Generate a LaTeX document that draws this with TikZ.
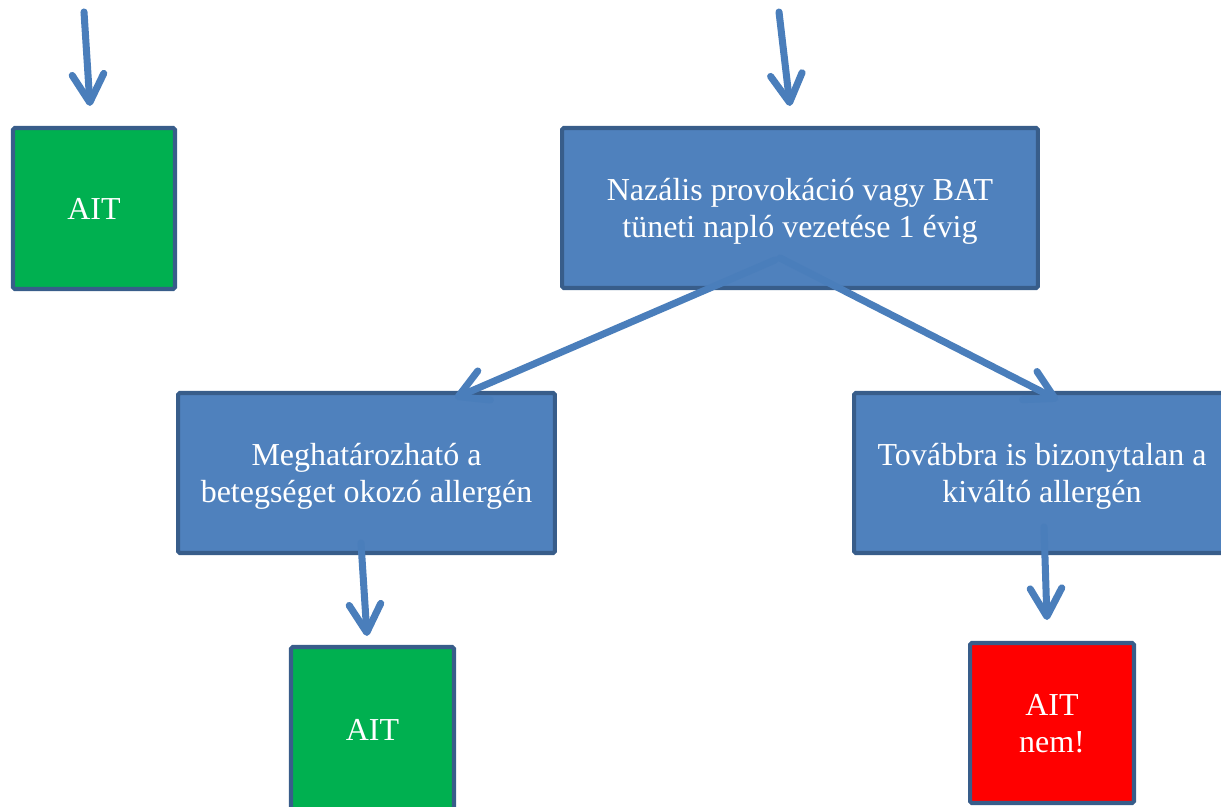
\documentclass[tikz,border=0pt]{standalone}
\usepackage{fontspec}
\setmainfont{Liberation Serif}
\usetikzlibrary{arrows.meta}
\definecolor{boxblue}{HTML}{4F81BD}
\definecolor{edgeblue}{HTML}{385D8A}
\definecolor{arrowblue}{HTML}{4A7EBB}
\definecolor{okgreen}{HTML}{00B050}
\definecolor{nored}{HTML}{FF0000}
\tikzset{
  card/.style={draw=edgeblue, line width=2.3pt, rounded corners=1pt, text=white,
    align=center, inner sep=0pt,
    font=\fontsize{18.2}{21.5}\selectfont},
  twoline/.style={text height=36.3pt, text depth=2.3pt},
  stepbox/.style={card, twoline, fill=boxblue},
  yesbox/.style={card, fill=okgreen},
  nobox/.style={card, fill=nored},
  conn/.style={draw=arrowblue, line width=4pt, line cap=round,
    -{Straight Barb[length=16pt,width=18pt,round]}}
}
\begin{document}
\begin{tikzpicture}[x=0.02cm, y=-0.02cm]
  \useasboundingbox (0,0) rectangle (1221,807);
  \clip (0,0) rectangle (1221,807);

  % boxes
  \node[yesbox, minimum width=3.24cm, minimum height=3.22cm] (ait1) at (94,208.5) {AIT};
  \node[stepbox, minimum width=9.52cm, minimum height=3.2cm] (test) at (800,208)
    {Nazális provokáció vagy BAT\\tüneti napló vezetése 1 évig};
  \node[stepbox, minimum width=7.54cm, minimum height=3.2cm] (known) at (366.5,473)
    {Meghatározható a\\betegséget okozó allergén};
  \node[stepbox, minimum width=7.52cm, minimum height=3.2cm] (unknown) at (1042,473)
    {Továbbra is bizonytalan a\\kiváltó allergén};
  \node[yesbox, minimum width=3.26cm, minimum height=3.32cm] (ait2) at (372.5,730) {AIT};
  \node[nobox, twoline, minimum width=3.28cm, minimum height=3.2cm] (nem) at (1052,723) {AIT\\nem!};

  % connector end points
  \coordinate (inA) at (84,12);
  \coordinate (inB) at (779,12);
  \coordinate (ait1top) at (90,106);
  \coordinate (testtop) at (790,106);
  \coordinate (testL) at (775,260);
  \coordinate (testR) at (780,258);
  \coordinate (knowntop) at (455,398);
  \coordinate (unknowntop) at (1058,400);
  \coordinate (knownout) at (361,543);
  \coordinate (ait2top) at (367,636);
  \coordinate (unknownout) at (1044,527);
  \coordinate (nemtop) at (1047,620);

  % connectors
  \draw[conn] (inA) -- (ait1top);
  \draw[conn] (inB) -- (testtop);
  \draw[conn] (testL) -- (knowntop);
  \draw[conn] (testR) -- (unknowntop);
  \draw[conn] (knownout) -- (ait2top);
  \draw[conn] (unknownout) -- (nemtop);
\end{tikzpicture}
\end{document}
